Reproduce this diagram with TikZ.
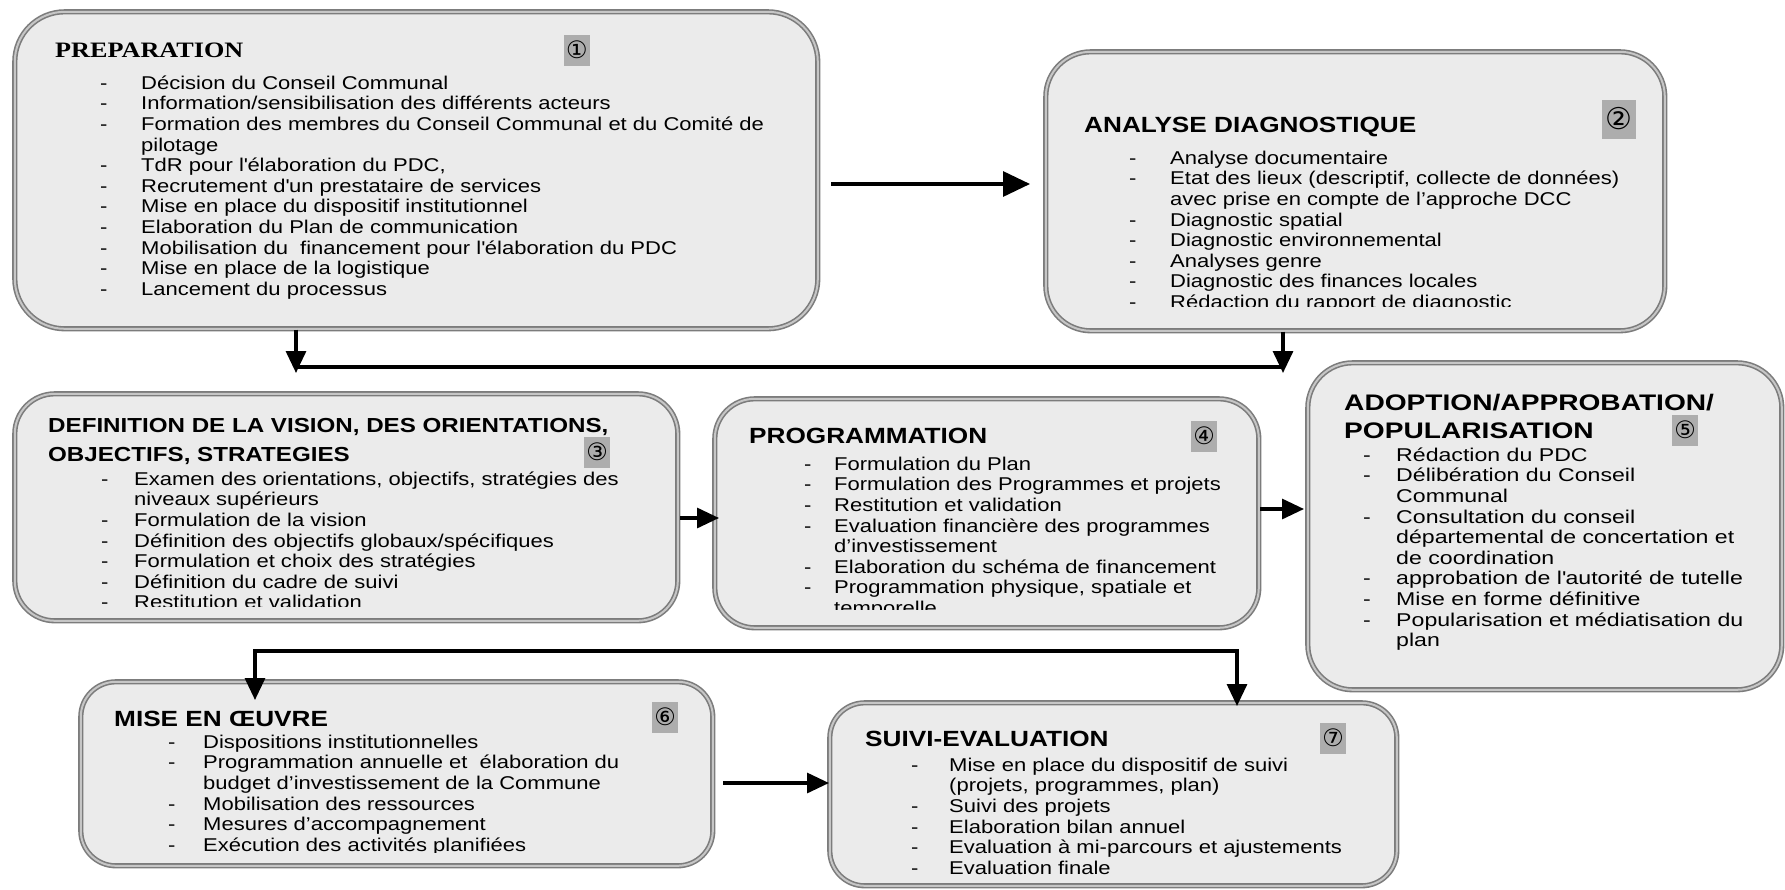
\documentclass[tikz,border=0pt]{standalone}
\usepackage{fontspec}
\setmainfont{Liberation Sans}[FakeStretch=1.19]
\newfontfamily\widefont{Liberation Sans}[FakeStretch=1.25]
\newfontfamily\serifbold{Liberation Serif}[FakeStretch=1.19]
\newfontfamily\symfont{DejaVu Sans}
\usetikzlibrary{arrows.meta}
\definecolor{boxfill}{HTML}{EBEBEB}
\definecolor{boxdraw}{HTML}{7C7C7C}
\definecolor{boxmid}{HTML}{C6C6C6}
\definecolor{badgegray}{HTML}{ADADAD}
\newlength\dashw
\newcommand\dashitem[1]{\strut\makebox[\dashw][l]{-}#1}
\newcommand\contline[1]{\strut\hspace*{\dashw}#1}
\newcommand\setdash[1]{\global\dashw=#1\relax}
\begin{document}
\begin{tikzpicture}[x=1pt,y=-1pt,
  stage/.style={draw=boxdraw, line width=1.6pt, double=boxmid, double distance=2pt,
    fill=boxfill, anchor=north west, inner sep=0pt},
  ttl/.style={anchor=north west, inner sep=0pt, align=left, font=\bfseries\fontsize{22}{26}\selectfont},
  items/.style={anchor=north west, inner sep=0pt, align=left, font=\fontsize{18.5}{20.6}\selectfont},
  badge/.style={fill=badgegray, inner sep=0pt, minimum width=26pt, minimum height=31pt,
    font=\symfont\fontsize{24}{24}\selectfont},
  arr/.style={line width=3.2pt, -{Triangle[length=22pt,width=20pt]}},
  bigarr/.style={line width=3.2pt, -{Triangle[length=27pt,width=25pt]}},
  link/.style={line width=3.2pt}
]
\useasboundingbox (0,0) rectangle (1785,889);
\fill[white] (0,0) rectangle (1785,889);

% boxes
\node[stage, rounded corners=50pt, minimum width=803pt, minimum height=317pt] (b1) at (14,11) {};
\node[stage, rounded corners=45pt, minimum width=619pt, minimum height=279pt] (b2) at (1045,51) {};
\node[stage, rounded corners=40pt, minimum width=663pt, minimum height=227pt] (b3) at (14,393) {};
\node[stage, rounded corners=40pt, minimum width=544pt, minimum height=229pt] (b4) at (714,398) {};
\node[stage, rounded corners=45pt, minimum width=474pt, minimum height=327pt] (b5) at (1307,362) {};
\node[stage, rounded corners=35pt, minimum width=632pt, minimum height=184pt] (b6) at (80,681) {};
\node[stage, rounded corners=35pt, minimum width=567pt, minimum height=183pt] (b7) at (829,702) {};

% titles
\node[ttl, font=\serifbold\bfseries\fontsize{22}{26}\selectfont] (t1) at (55,42.7) {PREPARATION};
\node[ttl] (t2) at (1084,117) {ANALYSE DIAGNOSTIQUE};
\node[ttl, font=\bfseries\fontsize{20.3}{29}\selectfont] (t3) at (48,418) {DEFINITION DE LA VISION, DES ORIENTATIONS,\\OBJECTIFS, STRATEGIES};
\node[ttl] (t4) at (749,428) {PROGRAMMATION};
\node[ttl, font=\widefont\bfseries\fontsize{22.5}{28}\selectfont] (t5) at (1344,394) {ADOPTION/APPROBATION/\\POPULARISATION};
\node[ttl] (t6) at (114,711) {MISE EN ŒUVRE};
\node[ttl] (t7) at (865,731) {SUIVI-EVALUATION};

% badges
\node[badge] (n1) at (577,50) {①};
\node[badge, minimum width=34pt, minimum height=39pt, font=\symfont\fontsize{30}{30}\selectfont] (n2) at (1619,119) {②};
\node[badge] (n3) at (597,452) {③};
\node[badge] (n4) at (1204,436) {④};
\node[badge] (n5) at (1685,430) {⑤};
\node[badge] (n6) at (665,717) {⑥};
\node[badge] (n7) at (1333,738) {⑦};

% items
\node[items] (i1) at (100,74.6) {\setdash{41pt}%
\dashitem{Décision du Conseil Communal}\\
\dashitem{Information/sensibilisation des différents acteurs}\\
\dashitem{Formation des membres du Conseil Communal et du Comité de}\\
\contline{pilotage}\\
\dashitem{TdR pour l\textquotesingle élaboration du PDC,}\\
\dashitem{Recrutement d\textquotesingle un prestataire de services}\\
\dashitem{Mise en place du dispositif institutionnel}\\
\dashitem{Elaboration du Plan de communication}\\
\dashitem{Mobilisation du\ \ financement pour l\textquotesingle élaboration du PDC}\\
\dashitem{Mise en place de la logistique}\\
\dashitem{Lancement du processus}};

\begin{scope}
\clip (1045,51) rectangle (1664,306);
\node[items] (i2) at (1129,149.6) {\setdash{41pt}%
\dashitem{Analyse documentaire}\\
\dashitem{Etat des lieux (descriptif, collecte de données)}\\
\contline{avec prise en compte de l’approche DCC}\\
\dashitem{Diagnostic spatial}\\
\dashitem{Diagnostic environnemental}\\
\dashitem{Analyses genre}\\
\dashitem{Diagnostic des finances locales}\\
\dashitem{Rédaction du rapport de diagnostic}};
\end{scope}

\begin{scope}
\clip (14,393) rectangle (677,606);
\node[items] (i3) at (101,470.6) {\setdash{33pt}%
\dashitem{Examen des orientations, objectifs, stratégies des}\\
\contline{niveaux supérieurs}\\
\dashitem{Formulation de la vision}\\
\dashitem{Définition des objectifs globaux/spécifiques}\\
\dashitem{Formulation et choix des stratégies}\\
\dashitem{Définition du cadre de suivi}\\
\dashitem{Restitution et validation}};
\end{scope}

\begin{scope}
\clip (714,398) rectangle (1258,609);
\node[items] (i4) at (804,455.6) {\setdash{30pt}%
\dashitem{Formulation du Plan}\\
\dashitem{Formulation des Programmes et projets}\\
\dashitem{Restitution et validation}\\
\dashitem{Evaluation financière des programmes}\\
\contline{d’investissement}\\
\dashitem{Elaboration du schéma de financement}\\
\dashitem{Programmation physique, spatiale et}\\
\contline{temporelle}};
\end{scope}

\node[items, font=\widefont\fontsize{18.5}{20.6}\selectfont] (i5) at (1363,446.6) {\setdash{33pt}%
\dashitem{Rédaction du PDC}\\
\dashitem{Délibération du Conseil}\\
\contline{Communal}\\
\dashitem{Consultation du conseil}\\
\contline{départemental de concertation et}\\
\contline{de coordination}\\
\dashitem{approbation de l\textquotesingle autorité de tutelle}\\
\dashitem{Mise en forme définitive}\\
\dashitem{Popularisation et médiatisation du}\\
\contline{plan}};

\begin{scope}
\clip (80,681) rectangle (712,852);
\node[items] (i6) at (168,733.6) {\setdash{35pt}%
\dashitem{Dispositions institutionnelles}\\
\dashitem{Programmation annuelle et\ \ élaboration du}\\
\contline{budget d’investissement de la Commune}\\
\dashitem{Mobilisation des ressources}\\
\dashitem{Mesures d’accompagnement}\\
\dashitem{Exécution des activités planifiées}};
\end{scope}

\node[items] (i7) at (911,756.6) {\setdash{38pt}%
\dashitem{Mise en place du dispositif de suivi}\\
\contline{(projets, programmes, plan)}\\
\dashitem{Suivi des projets}\\
\dashitem{Elaboration bilan annuel}\\
\dashitem{Evaluation à mi-parcours et ajustements}\\
\dashitem{Evaluation finale}};

% connectors
\coordinate (c12) at (831,184);
\draw[bigarr, shorten >=15pt] (c12) -- (c12 -| b2.west);

\coordinate (j1) at (296,367);
\coordinate (j2) at (1283,367);
\draw[link] ([xshift=-1.6pt]j1) -- ([xshift=1.6pt]j2);
\draw[arr, shorten >=-6pt] (j1 |- b1.south) -- (j1);
\draw[arr, shorten >=-6pt] (j2 |- b2.south) -- (j2);

\coordinate (c34) at (680,518);
\draw[arr, shorten >=-5pt] (c34) -- (c34 -| b4.west);
\coordinate (c45) at (1260,509);
\draw[arr, shorten >=3pt] (c45) -- (c45 -| b5.west);

\coordinate (k1) at (255,651);
\coordinate (k2) at (1237,651);
\draw[link] ([xshift=-1.6pt]k1) -- ([xshift=1.6pt]k2);
\draw[arr, shorten >=-19pt] (k1) -- (k1 |- b6.north);
\draw[arr, shorten >=-4pt] (k2) -- (k2 |- b7.north);

\coordinate (c67) at (723,783);
\draw[arr] (c67) -- (c67 -| b7.west);
\end{tikzpicture}
\end{document}
